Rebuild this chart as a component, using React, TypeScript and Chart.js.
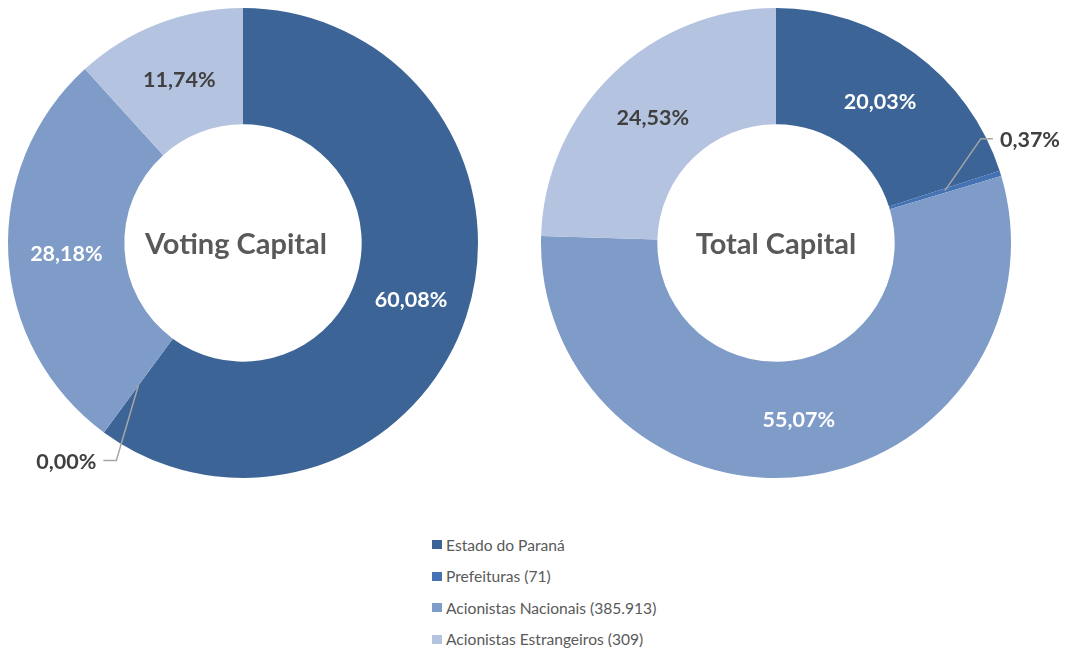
import React, { useEffect, useRef } from 'react';
import { Chart, registerables } from 'chart.js';

Chart.register(...registerables);

const categories = ['Estado do Paraná', 'Prefeituras (71)', 'Acionistas Nacionais (385.913)', 'Acionistas Estrangeiros (309)'];
const votingCapital = [60.08, 0.0, 28.18, 11.74];
const totalCapital = [20.03, 0.37, 55.07, 24.53];
const chartTitles = ['Voting Capital', 'Total Capital'];
const sliceColors = ['#3C6496', '#4472B4', '#7F9BC8', '#B4C3DF'];
const labelColors = ['#FFFFFF', '#FFFFFF', '#FFFFFF', '#404040'];

const FONT = 'Lato, "Open Sans", sans-serif';

const fmt = (v: number) => v.toFixed(2).replace('.', ',') + '%';

const labelPlugin = {
  id: 'sliceLabels',
  afterDatasetsDraw(chart: any, _args: any, opts: any) {
    const ctx = chart.ctx;
    const meta = chart.getDatasetMeta(0);
    const data = chart.data.datasets[0].data as number[];
    const leaders = opts.leaders || {};
    ctx.save();
    ctx.font = `bold 21.5px ${FONT}`;
    ctx.textBaseline = 'middle';
    meta.data.forEach((arc: any, i: number) => {
      const text = fmt(data[i]);
      const p = arc.getCenterPoint();
      const ld = leaders[i];
      if (ld) {
        ctx.strokeStyle = '#A6A6A6';
        ctx.lineWidth = 1.5;
        ctx.beginPath();
        ctx.moveTo(p.x, p.y);
        ctx.lineTo(p.x + ld.elbow[0], p.y + ld.elbow[1]);
        ctx.lineTo(p.x + ld.end[0], p.y + ld.end[1]);
        ctx.stroke();
        ctx.fillStyle = '#404040';
        ctx.textAlign = ld.align;
        ctx.fillText(text, p.x + ld.text[0], p.y + ld.text[1]);
      } else {
        ctx.fillStyle = labelColors[i];
        ctx.textAlign = 'center';
        ctx.fillText(text, p.x, p.y + 2);
      }
    });
    // center title
    const arc0 = meta.data[0] as any;
    ctx.font = `bold 29px ${FONT}`;
    ctx.fillStyle = '#595959';
    ctx.textAlign = 'center';
    ctx.fillText(opts.title, arc0.x + (opts.titleDx || 0), arc0.y + 2);
    ctx.restore();
  },
};

function makeConfig(values: number[], title: string, padding: any, leaders: any, titleDx: number): any {
  return {
    type: 'doughnut',
    data: {
      labels: categories,
      datasets: [
        {
          data: values,
          backgroundColor: sliceColors,
          borderWidth: 0,
        },
      ],
    },
    options: {
      animation: false,
      responsive: false,
      maintainAspectRatio: false,
      cutout: '50.5%',
      layout: { padding },
      plugins: {
        legend: { display: false },
        tooltip: { enabled: false },
        sliceLabels: { leaders, title, titleDx },
      },
    },
    plugins: [labelPlugin],
  };
}

export default function App() {
  const leftRef = useRef<HTMLCanvasElement>(null);
  const rightRef = useRef<HTMLCanvasElement>(null);

  useEffect(() => {
    const left = new Chart(
      leftRef.current as HTMLCanvasElement,
      makeConfig(
        votingCapital,
        chartTitles[0],
        { left: 8, top: 8, right: 22, bottom: 12 },
        { 1: { elbow: [-22, 75], end: [-35, 75], text: [-42, 77], align: 'right' } },
        -7
      )
    );
    const right = new Chart(
      rightRef.current as HTMLCanvasElement,
      makeConfig(
        totalCapital,
        chartTitles[1],
        { left: 11, top: 8, right: 55, bottom: 12 },
        { 1: { elbow: [36, -52], end: [48, -52], text: [55, -51], align: 'left' } },
        0
      )
    );
    return () => {
      left.destroy();
      right.destroy();
    };
  }, []);

  return (
    <div style={{ position: 'fixed', left: 0, top: 0, width: 1066, height: 649, background: '#fff', overflow: 'hidden' }}>
      <canvas ref={leftRef} width={500} height={490} style={{ position: 'absolute', left: 0, top: 0, width: 500, height: 490 }} />
      <canvas ref={rightRef} width={536} height={490} style={{ position: 'absolute', left: 530, top: 0, width: 536, height: 490 }} />
      <div style={{ position: 'absolute', left: 432, top: 529, fontFamily: FONT, fontSize: 15.6, color: '#595959' }}>
        {categories.map((c, i) => (
          <div key={c} style={{ display: 'flex', alignItems: 'center', height: 31.5, whiteSpace: 'nowrap' }}>
            <span style={{ display: 'inline-block', width: 10, height: 9, background: sliceColors[i], marginRight: 4 }} />
            <span>{c}</span>
          </div>
        ))}
      </div>
    </div>
  );
}
